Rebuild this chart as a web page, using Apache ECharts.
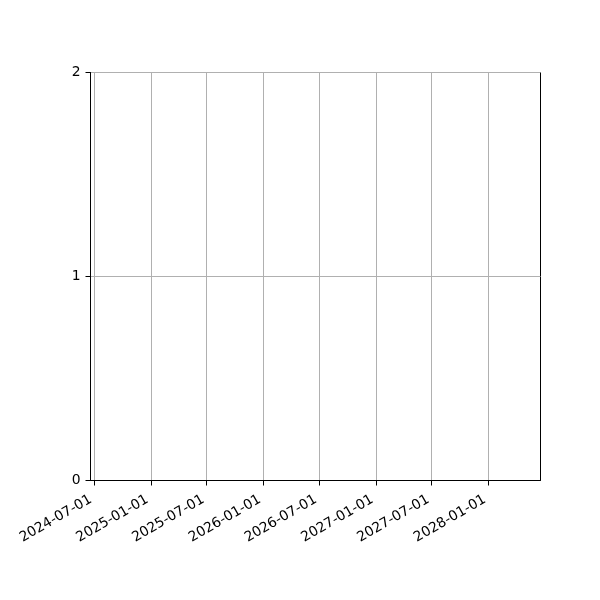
<!DOCTYPE html>
<html>
<head>
<meta charset="utf-8">
<script src="https://cdn.jsdelivr.net/npm/echarts@6/dist/echarts.min.js"></script>
<style>
  html, body { margin: 0; padding: 0; background: #fff; }
  #chart { width: 600px; height: 600px; }
</style>
</head>
<body>
<div id="chart"></div>
<script>
// axis range and ticks (empty plot, no data)
var xRange = ["2024-06-19", "2028-06-18"];
var xTickDates = ["2024-07-01", "2025-01-01", "2025-07-01", "2026-01-01",
  "2026-07-01", "2027-01-01", "2027-07-01", "2028-01-01"];
var yTicks = [0, 1, 2];

function toTime(s) {
  var p = s.split("-");
  return Date.UTC(+p[0], +p[1] - 1, +p[2]);
}
function fmtDate(v) {
  var d = new Date(v);
  var m = d.getUTCMonth() + 1, day = d.getUTCDate();
  return d.getUTCFullYear() + "-" + (m < 10 ? "0" : "") + m + "-" + (day < 10 ? "0" : "") + day;
}

var xTicks = xTickDates.map(toTime);
var font = "DejaVu Sans";

var chart = echarts.init(document.getElementById("chart"), null, { renderer: "canvas" });
chart.setOption({
  animation: false,
  grid: {
    left: 90.5, right: 59.5, top: 72.5, bottom: 119.5,
    show: true, borderColor: "#000", borderWidth: 1, backgroundColor: "transparent"
  },
  xAxis: {
    type: "value",
    min: toTime(xRange[0]),
    max: toTime(xRange[1]),
    axisLine: { show: true, lineStyle: { color: "#000", width: 1 } },
    axisTick: { show: true, length: 5, customValues: xTicks, lineStyle: { color: "#000" } },
    axisLabel: {
      customValues: xTicks,
      rotate: 30, margin: 16,
      padding: [0, 4, 0, 0],
      fontFamily: font, fontSize: 13.9, color: "#000",
      formatter: fmtDate
    },
    splitLine: { show: true, customValues: xTicks, lineStyle: { color: "#b0b0b0", width: 1 } }
  },
  yAxis: {
    type: "value",
    min: yTicks[0], max: yTicks[yTicks.length - 1], interval: 1,
    axisLine: { show: true, lineStyle: { color: "#000", width: 1 } },
    axisTick: { show: true, length: 5, lineStyle: { color: "#000" } },
    axisLabel: { margin: 10, fontFamily: font, fontSize: 13.9, color: "#000" },
    splitLine: { show: true, lineStyle: { color: "#b0b0b0", width: 1 } }
  },
  series: []
});
</script>
</body>
</html>
